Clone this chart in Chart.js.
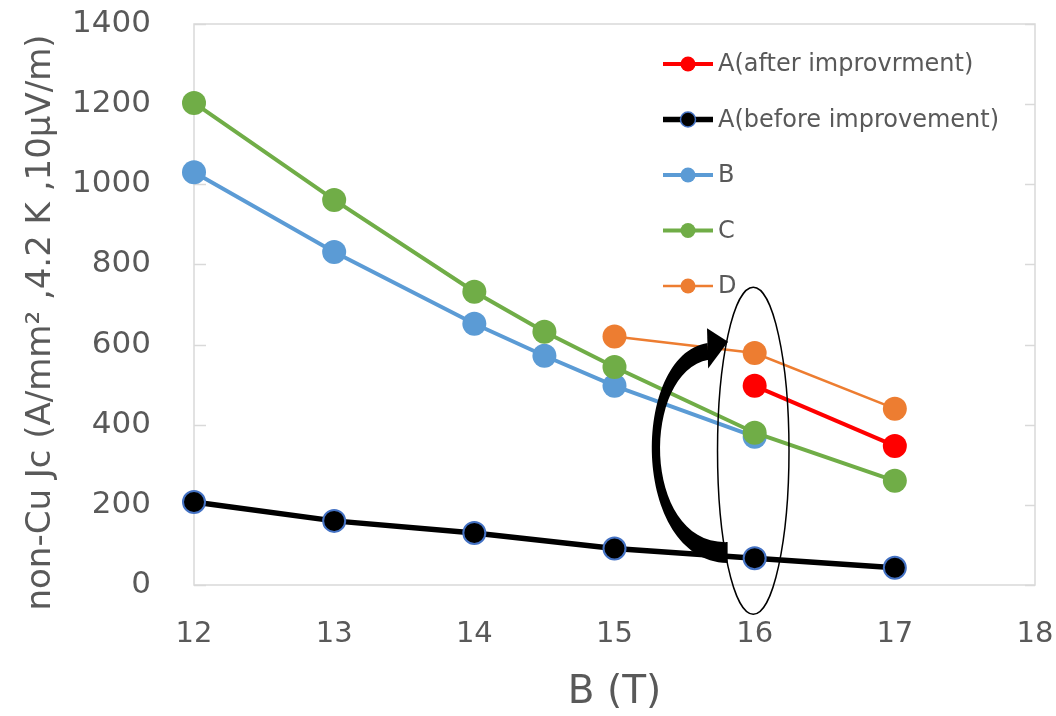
<!DOCTYPE html>
<html>
<head>
<meta charset="utf-8">
<script src="https://cdn.jsdelivr.net/npm/chart.js@4"></script>
<style>
  html, body { margin: 0; padding: 0; background: #fff; }
  canvas { display: block; }
</style>
</head>
<body>
<canvas id="jc-chart" width="1056" height="716"></canvas>
<script>
// values (B in tesla, Jc in A/mm2)
const seriesNames = ["A(after improvrment)", "A(before improvement)", "B", "C", "D"];
const aAfterB = [16, 17];
const aAfterJc = [497, 347];
const aBeforeB = [12, 13, 14, 15, 16, 17];
const aBeforeJc = [207, 160, 130, 91, 67, 43];
const bField = [12, 13, 14, 14.5, 15, 16];
const bJc = [1030, 831, 652, 572, 497, 370];
const cField = [12, 13, 14, 14.5, 15, 16, 17];
const cJc = [1203, 961, 732, 632, 544, 380, 260];
const dField = [15, 16, 17];
const dJc = [620, 579, 440];
const xTicks = [12, 13, 14, 15, 16, 17, 18];
const yTicks = [0, 200, 400, 600, 800, 1000, 1200, 1400];
const yTitle = "non-Cu Jc (A/mm² ,4.2 K ,10μV/m)";

const textGray = "#595959";
const lineGray = "#D9D9D9";
const fontFamily = '"DejaVu Sans", Verdana, sans-serif';

function pts(xs, ys) {
    return xs.map((x, i) => ({ x: x, y: ys[i] }));
}

// ellipse around 16 T and the curved arrow, in data units
const ellipseMark = { x: 15.99, y: 335, rx: 0.255, ry: 408 };

const arrowShape = {
    outer: [[15.807, 55], [15.114, 62], [15.114, 574], [15.664, 604]],
    inner: [[15.671, 562], [15.19, 532], [15.19, 100], [15.807, 107]],
    head: [[15.660, 641], [15.810, 607], [15.668, 540]],
};

// plot-area box + inward tick marks (no gridlines in the original)
const frameBox = {
    id: "frameBox",
    beforeDatasetsDraw(chart) {
        const { ctx, chartArea: a, scales } = chart;
        ctx.save();
        ctx.strokeStyle = lineGray;
        ctx.lineWidth = 1.5;
        ctx.strokeRect(a.left, a.top, a.right - a.left, a.bottom - a.top);
        yTicks.forEach((v) => {
            const y = Math.round(scales.y.getPixelForValue(v)) + 0.5;
            ctx.beginPath();
            ctx.moveTo(a.left, y);
            ctx.lineTo(a.left + 12, y);
            ctx.moveTo(a.right - 10, y);
            ctx.lineTo(a.right, y);
            ctx.stroke();
        });
        ctx.restore();
    },
    afterDraw(chart) {
        // y title, sits a bit below the plot centre like the original
        const { ctx, chartArea: a } = chart;
        ctx.save();
        ctx.translate(41, (a.top + a.bottom) / 2 + 18);
        ctx.rotate(-Math.PI / 2);
        ctx.font = "34px " + fontFamily;
        ctx.fillStyle = textGray;
        ctx.textAlign = "center";
        ctx.textBaseline = "middle";
        ctx.fillText(yTitle, 0, 0);
        ctx.restore();
    },
};

const sketchMarks = {
    id: "sketchMarks",
    afterDatasetsDraw(chart) {
        const { ctx, scales } = chart;
        const px = (p) => [scales.x.getPixelForValue(p[0]), scales.y.getPixelForValue(p[1])];
        ctx.save();

        // ellipse
        const cx = scales.x.getPixelForValue(ellipseMark.x);
        const cy = scales.y.getPixelForValue(ellipseMark.y);
        const rx = scales.x.getPixelForValue(ellipseMark.x + ellipseMark.rx) - cx;
        const ry = cy - scales.y.getPixelForValue(ellipseMark.y + ellipseMark.ry);
        ctx.beginPath();
        ctx.ellipse(cx, cy, rx, ry, 0, 0, Math.PI * 2);
        ctx.strokeStyle = "#000";
        ctx.lineWidth = 1.5;
        ctx.stroke();

        // curved arrow body
        const o = arrowShape.outer.map(px);
        const n = arrowShape.inner.map(px);
        ctx.beginPath();
        ctx.moveTo(o[0][0], o[0][1]);
        ctx.bezierCurveTo(o[1][0], o[1][1], o[2][0], o[2][1], o[3][0], o[3][1]);
        ctx.lineTo(n[0][0], n[0][1]);
        ctx.bezierCurveTo(n[1][0], n[1][1], n[2][0], n[2][1], n[3][0], n[3][1]);
        ctx.closePath();
        ctx.fillStyle = "#000";
        ctx.fill();

        // arrow head
        const h = arrowShape.head.map(px);
        ctx.beginPath();
        ctx.moveTo(h[0][0], h[0][1]);
        ctx.lineTo(h[1][0], h[1][1]);
        ctx.lineTo(h[2][0], h[2][1]);
        ctx.closePath();
        ctx.fill();
        ctx.restore();
    },
};

// legend sits inside the plot, top right
const insideLegend = {
    id: "insideLegend",
    afterDraw(chart) {
        const { ctx, chartArea: a } = chart;
        const x0 = a.right - 372;
        const y0 = a.top + 40;
        const rowGap = 55.5;
        ctx.save();
        ctx.font = "24px " + fontFamily;
        ctx.textBaseline = "middle";
        chart.data.datasets.forEach((ds, i) => {
            const y = y0 + i * rowGap;
            ctx.strokeStyle = ds.borderColor;
            ctx.lineWidth = ds.borderWidth;
            ctx.beginPath();
            ctx.moveTo(x0, y);
            ctx.lineTo(x0 + 50, y);
            ctx.stroke();
            ctx.beginPath();
            ctx.arc(x0 + 25, y, 7.5, 0, Math.PI * 2);
            ctx.fillStyle = ds.pointBackgroundColor;
            ctx.fill();
            if (ds.pointBorderColor !== ds.pointBackgroundColor) {
                ctx.lineWidth = 1.5;
                ctx.strokeStyle = ds.pointBorderColor;
                ctx.stroke();
            }
            ctx.fillStyle = textGray;
            ctx.fillText(ds.label, x0 + 55, y + 1);
        });
        ctx.restore();
    },
};

function series(i, data, color, width, radius, border) {
    return {
        label: seriesNames[i],
        data: data,
        borderColor: color,
        borderWidth: width,
        pointBackgroundColor: color,
        pointBorderColor: border || color,
        pointBorderWidth: border ? 2 : 0,
        pointRadius: radius,
        pointHoverRadius: radius,
        order: 5 - i,
        tension: 0,
        clip: false,
    };
}

new Chart(document.getElementById("jc-chart").getContext("2d"), {
    type: "line",
    data: {
        datasets: [
            series(0, pts(aAfterB, aAfterJc), "#FF0000", 4, 12),
            series(1, pts(aBeforeB, aBeforeJc), "#000000", 5.5, 11, "#4472C4"),
            series(2, pts(bField, bJc), "#5B9BD5", 4, 12),
            series(3, pts(cField, cJc), "#70AD47", 4, 12),
            series(4, pts(dField, dJc), "#ED7D31", 2.5, 12),
        ],
    },
    options: {
        responsive: false,
        animation: false,
        layout: { padding: { top: 24, right: 21, left: 0, bottom: 0 } },
        plugins: {
            legend: { display: false },
            tooltip: { enabled: false },
        },
        scales: {
            x: {
                type: "linear",
                min: 12,
                max: 18,
                afterBuildTicks: (s) => { s.ticks = xTicks.map((v) => ({ value: v })); },
                afterFit: (s) => {
                    s.height = 131;
                    s.paddingLeft = 0;
                    s.paddingRight = 0;
                },
                grid: { display: false },
                border: { display: false },
                ticks: {
                    color: textGray,
                    padding: 24,
                    callback: (v) => String(v),
                    font: { family: fontFamily, size: 29 },
                },
                title: {
                    display: true,
                    text: "B (T)",
                    color: textGray,
                    padding: { top: 0, bottom: 0 },
                    font: { family: fontFamily, size: 39 },
                },
            },
            y: {
                min: 0,
                max: 1400,
                afterBuildTicks: (s) => { s.ticks = yTicks.map((v) => ({ value: v })); },
                afterFit: (s) => {
                    s.width = 194;
                    s.paddingTop = 0;
                    s.paddingBottom = 0;
                },
                grid: { display: false },
                border: { display: false },
                ticks: {
                    color: textGray,
                    padding: 35,
                    callback: (v) => String(v),
                    font: { family: fontFamily, size: 31 },
                },
                title: { display: false },
            },
        },
    },
    plugins: [frameBox, sketchMarks, insideLegend],
});
</script>
</body>
</html>
